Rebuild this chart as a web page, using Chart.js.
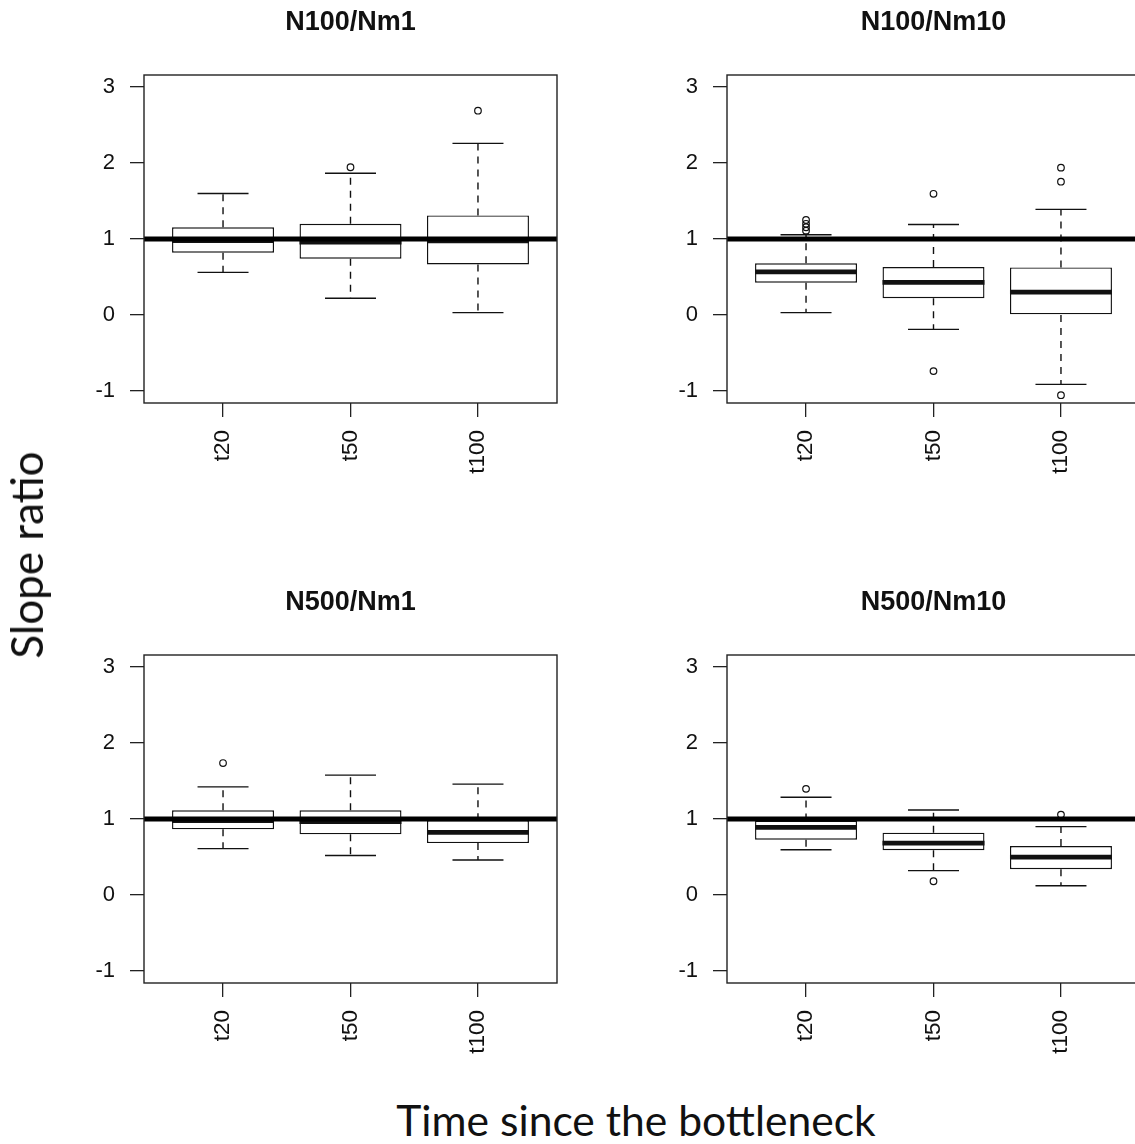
<!DOCTYPE html>
<html>
<head>
<meta charset="utf-8">
<script src="https://cdn.jsdelivr.net/npm/chart.js@4.4.1/dist/chart.umd.min.js"></script>
<style>
  html, body { margin: 0; padding: 0; background: #fff; }
  body { position: relative; width: 1135px; height: 1144px; overflow: hidden; }
  canvas { position: absolute; }
  .lab { position: absolute; font-family: Lato, 'Open Sans', sans-serif; color: #111; white-space: nowrap; }
</style>
</head>
<body>
<canvas id="p0" width="540" height="500" style="left:40px;top:0px;width:540px;height:500px"></canvas>
<canvas id="p1" width="540" height="500" style="left:627px;top:0px;width:540px;height:500px"></canvas>
<canvas id="p2" width="540" height="500" style="left:40px;top:580px;width:540px;height:500px"></canvas>
<canvas id="p3" width="540" height="500" style="left:627px;top:580px;width:540px;height:500px"></canvas>
<div class="lab" style="font-size:44px;line-height:44px;left:26px;top:555px;transform:translate(-50%,-50%) rotate(-90deg)">Slope ratio</div>
<div class="lab" style="font-size:42.6px;line-height:42.6px;left:636px;top:1099px;transform:translateX(-50%)">Time since the bottleneck</div>
<script>
const times = ['t20', 't50', 't100']
const panels = ['N100/Nm1', 'N100/Nm10', 'N500/Nm1', 'N500/Nm10']
const yTicks = [-1, 0, 1, 2, 3]

// one row per panel, one value per time
const whiskerLow = [
  [0.56, 0.22, 0.03],
  [0.03, -0.19, -0.915],
  [0.61, 0.52, 0.46],
  [0.595, 0.32, 0.12]
]
const q1 = [
  [0.82, 0.74, 0.665],
  [0.425, 0.22, 0.0],
  [0.864, 0.798, 0.683],
  [0.728, 0.59, 0.339]
]
const median = [
  [0.98, 0.96, 0.975],
  [0.567, 0.43, 0.30],
  [0.98, 0.965, 0.824],
  [0.89, 0.683, 0.497]
]
const q3 = [
  [1.155, 1.20, 1.31],
  [0.68, 0.63, 0.625],
  [1.115, 1.115, 0.985],
  [0.98, 0.82, 0.643]
]
const whiskerHigh = [
  [1.60, 1.865, 2.26],
  [1.055, 1.19, 1.39],
  [1.423, 1.578, 1.459],
  [1.287, 1.119, 0.90]
]
const outliers = [
  [[], [1.945], [2.69]],
  [[1.25, 1.2, 1.155, 1.11], [1.595, -0.74], [1.94, 1.755, -1.057]],
  [[1.737], [], []],
  [[1.397], [0.18], [1.058]]
]
const refLine = 1

const fontR = '"Liberation Sans", Arial, sans-serif'
const ink = '#111'

// whiskers, medians, reference line and frame, all placed through the scales
const boxExtras = {
  id: 'boxExtras',
  afterDatasetsDraw(chart, args, opts) {
    const k = opts.panel
    if (k === undefined) return
    const { ctx, chartArea, scales: { x, y } } = chart
    ctx.save()
    ctx.strokeStyle = ink
    ctx.lineCap = 'butt'
    times.forEach((t, i) => {
      const cx = x.getPixelForValue(i + 1)
      const capL = x.getPixelForValue(i + 1 - 0.2)
      const capR = x.getPixelForValue(i + 1 + 0.2)
      const boxL = x.getPixelForValue(i + 1 - 0.4)
      const boxR = x.getPixelForValue(i + 1 + 0.4)
      const pLo = y.getPixelForValue(whiskerLow[k][i])
      const pHi = y.getPixelForValue(whiskerHigh[k][i])
      const pQ1 = y.getPixelForValue(q1[k][i])
      const pQ3 = y.getPixelForValue(q3[k][i])
      const pMed = y.getPixelForValue(median[k][i])

      ctx.lineWidth = 1.4
      ctx.setLineDash([7, 6])
      ctx.beginPath()
      ctx.moveTo(cx, pQ3); ctx.lineTo(cx, pHi)
      ctx.moveTo(cx, pQ1); ctx.lineTo(cx, pLo)
      ctx.stroke()

      ctx.setLineDash([])
      ctx.beginPath()
      ctx.moveTo(capL, pHi); ctx.lineTo(capR, pHi)
      ctx.moveTo(capL, pLo); ctx.lineTo(capR, pLo)
      ctx.stroke()

      ctx.lineWidth = 4.8
      ctx.beginPath()
      ctx.moveTo(boxL, pMed); ctx.lineTo(boxR, pMed)
      ctx.stroke()
    })

    ctx.lineWidth = 5
    ctx.strokeStyle = '#000'
    const pRef = y.getPixelForValue(refLine)
    ctx.beginPath()
    ctx.moveTo(chartArea.left, pRef); ctx.lineTo(chartArea.right, pRef)
    ctx.stroke()

    ctx.lineWidth = 1.4
    ctx.strokeStyle = '#222'
    ctx.strokeRect(chartArea.left, chartArea.top, chartArea.right - chartArea.left, chartArea.bottom - chartArea.top)
    ctx.restore()
  }
}
Chart.register(boxExtras)

const makePanel = (id, k, axisW, padRight) => {
  const boxes = times.map((t, i) => ({ x: i + 1, y: [q1[k][i], q3[k][i]] }))
  const outs = []
  outliers[k].forEach((vals, i) => vals.forEach(v => outs.push({ x: i + 1, y: v })))

  new Chart(id, {
    type: 'bar',
    data: {
      datasets: [{
        type: 'bar',
        data: boxes,
        backgroundColor: '#fff',
        borderColor: ink,
        borderWidth: 1.4,
        borderSkipped: false,
        categoryPercentage: 1,
        barPercentage: 0.8
      }, {
        type: 'scatter',
        data: outs,
        pointStyle: 'circle',
        pointRadius: 3.3,
        borderColor: ink,
        backgroundColor: 'rgba(0,0,0,0)',
        borderWidth: 1.2
      }]
    },
    options: {
      responsive: false,
      animation: false,
      events: [],
      layout: { padding: { left: 0, right: padRight, top: 0, bottom: 0 } },
      plugins: {
        legend: { display: false },
        tooltip: { enabled: false },
        title: {
          display: true,
          text: panels[k],
          fullSize: false,
          color: ink,
          font: { family: fontR, size: 27, weight: 'bold', lineHeight: 1.2 },
          padding: { top: 6.4, bottom: 36.2 }
        },
        boxExtras: { panel: k }
      },
      scales: {
        x: {
          type: 'linear',
          min: 0.38,
          max: 3.62,
          offset: false,
          afterBuildTicks: s => { s.ticks = times.map((t, i) => ({ value: i + 1 })) },
          afterFit: s => { s.height = 97 },
          ticks: {
            autoSkip: false,
            minRotation: 90,
            maxRotation: 90,
            padding: 13,
            color: ink,
            font: { family: fontR, size: 22.5 },
            callback: (v, i) => times[i]
          },
          grid: { offset: false, drawOnChartArea: false, tickLength: 14, color: '#222', lineWidth: 1.3 },
          border: { display: false }
        },
        y: {
          type: 'linear',
          min: -1.16,
          max: 3.16,
          afterBuildTicks: s => { s.ticks = yTicks.map(v => ({ value: v })) },
          afterFit: s => { s.width = axisW },
          ticks: {
            padding: 15,
            color: ink,
            font: { family: fontR, size: 22 },
            callback: v => String(v)
          },
          grid: { drawOnChartArea: false, tickLength: 14, color: '#222', lineWidth: 1.3 },
          border: { display: false }
        }
      }
    }
  })
}

makePanel('p0', 0, 104, 23)
makePanel('p1', 1, 100, 27)
makePanel('p2', 2, 104, 23)
makePanel('p3', 3, 100, 27)
</script>
</body>
</html>
